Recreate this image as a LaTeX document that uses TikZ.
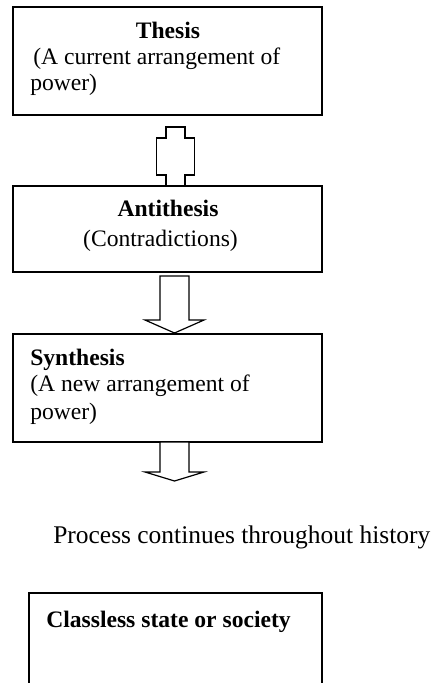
\documentclass[tikz,border=0pt]{standalone}
\usepackage{fontspec}
\setmainfont{Liberation Serif}
\usetikzlibrary{calc}
\begin{document}
\begin{tikzpicture}[x=0.75pt,y=-0.75pt,
  box/.style={draw, line width=0.9pt, inner sep=0pt, outer sep=0pt, minimum width=231.75pt},
  blk/.style={draw, line width=0.9pt, line join=miter, fill=white},
  txt/.style={inner sep=0pt, font=\fontsize{17.7}{20}\selectfont},
  btxt/.style={inner sep=0pt, font=\fontsize{17.7}{20}\selectfont\bfseries},
  bigtxt/.style={inner sep=0pt, font=\fontsize{19.1}{22}\selectfont}]
\useasboundingbox (0,0) rectangle (436,683);
% boxes
\node[box, minimum height=81pt] (thesis) at (167.5,61) {};
\node[box, minimum height=64.5pt] (anti) at (167.5,229) {};
\node[box, minimum height=81pt] (syn) at (167.5,388) {};
% open-bottom box
\coordinate (cl) at (29,593);
\draw[line width=0.9pt] (29,683) -- (cl) -- (322,593) -- (322,683);
% texts
\node[btxt, anchor=base] (t1) at (168,38) {Thesis};
\node[txt, anchor=base west] (t2) at (33,64) {(A current arrangement of};
\node[txt, anchor=base west] (t3) at (30,90) {power)};
\node[btxt, anchor=base] (a1) at (168,216) {Antithesis};
\node[txt, anchor=base] (a2) at (160.5,246) {(Contradictions)};
\node[btxt, anchor=base west] (s1) at (30,365) {Synthesis};
\node[txt, anchor=base west] (s2) at (30,391) {(A new arrangement of};
\node[txt, anchor=base west] (s3) at (30,419) {power)};
\node[bigtxt, anchor=base west] (p) at (53,543) {Process continues throughout history};
\node[btxt, anchor=base west] (c1) at (46,627) {Classless state or society};
% double block arrow thesis <-> antithesis
\draw[blk] ($(thesis.south)+(-1.5,12)$) -- ++(19,0) -- ++(0,11) -- ++(9.5,0) -- ++(0,37)
  -- ++(-9.5,0) -- ++(0,11) -- ++(-19,0) -- ++(0,-11) -- ++(-9.5,0) -- ++(0,-37) -- ++(9.5,0) -- cycle;
% block arrow antithesis -> synthesis
\draw[blk] ($(anti.south)+(-7.5,4)$) -- ++(29,0) -- ++(0,44) -- ++(15,0)
  -- ($(syn.north)+(7,-1)$) -- ++(-29.5,-13) -- ++(15,0) -- cycle;
% block arrow from synthesis
\draw[blk] ($(syn.south)+(-7.5,0)$) -- ++(29,0) -- ++(0,30) -- ++(15,0)
  -- ++(-29.5,9) -- ++(-29.5,-9) -- ++(15,0) -- cycle;
\end{tikzpicture}
\end{document}
